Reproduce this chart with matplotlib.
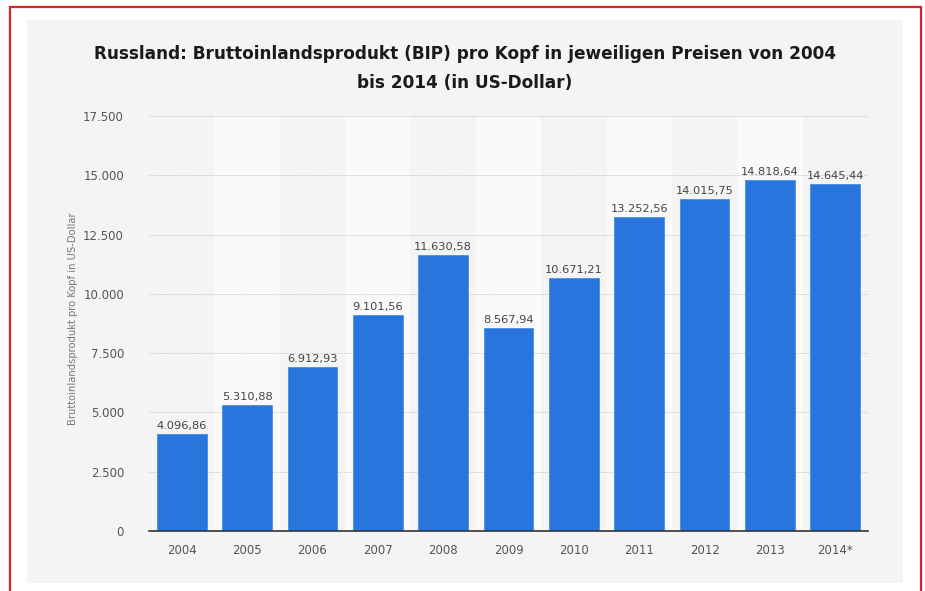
import matplotlib
matplotlib.use('Agg')
import matplotlib.pyplot as plt
from matplotlib.patches import Rectangle

# Daten
jahre = ['2004', '2005', '2006', '2007', '2008', '2009', '2010', '2011', '2012', '2013', '2014*']
werte = [4096.86, 5310.88, 6912.93, 9101.56, 11630.58, 8567.94, 10671.21, 13252.56, 14015.75, 14818.64, 14645.44]
y_ticks = [0, 2500, 5000, 7500, 10000, 12500, 15000, 17500]
y_tick_labels = ['0', '2.500', '5.000', '7.500', '10.000', '12.500', '15.000', '17.500']
titel = 'Russland: Bruttoinlandsprodukt (BIP) pro Kopf in jeweiligen Preisen von 2004\nbis 2014 (in US-Dollar)'
y_titel = 'Bruttoinlandsprodukt pro Kopf in US-Dollar'


def fmt_de(v):  # 1234.56 -> 1.234,56
    s = f'{v:,.2f}'
    return s.replace(',', 'X').replace('.', ',').replace('X', '.')


W, H = 925, 591
fig = plt.figure(figsize=(W / 100, H / 100), dpi=100)
fig.patch.set_facecolor('white')

# rahmen + grauer hintergrund
fig.patches.append(Rectangle((9.5 / W, -0.05), (921 - 9.5) / W, 1.05 - 7 / H, transform=fig.transFigure,
                             fill=False, edgecolor='#d8232a', linewidth=1.6, zorder=-2))
fig.patches.append(Rectangle((27 / W, 1 - 583 / H), (903 - 27) / W, (583 - 20) / H, transform=fig.transFigure,
                             facecolor='#f4f4f4', edgecolor='none', zorder=-2))

ax = fig.add_axes([149 / W, 1 - 531 / H, (868 - 149) / W, (531 - 116) / H])
ax.set_facecolor('none')

x = list(range(len(jahre)))
ax.set_xlim(-0.5, len(jahre) - 0.5)
ax.set_ylim(0, 17500)

# helle streifen
for i in x:
    if i % 2 == 1:
        ax.axvspan(i - 0.5, i + 0.5, color='#fafafa', zorder=0, lw=0)

ax.yaxis.grid(True, linestyle=(0, (1, 1.2)), color='#c4c4c4', linewidth=0.7, zorder=1)
ax.set_axisbelow(True)

bars = ax.bar(x, werte, width=0.76, color='#2775dd', edgecolor='#4a8ee6', linewidth=0.6, zorder=2)
for xi, v in zip(x, werte):
    ax.text(xi, v + 120, fmt_de(v), ha='center', va='bottom', fontsize=8.2, color='#444444', zorder=3)

ax.set_xticks(x)
ax.set_xticklabels(jahre, fontsize=8.5, color='#555555')
ax.set_yticks(y_ticks)
ax.set_yticklabels(y_tick_labels, fontsize=8.5, color='#555555')
ax.tick_params(axis='both', length=0)
ax.tick_params(axis='x', pad=9)
ax.tick_params(axis='y', pad=18)

for s in ['top', 'right', 'left']:
    ax.spines[s].set_visible(False)
ax.spines['bottom'].set_color('#333333')
ax.spines['bottom'].set_linewidth(1.2)

fig.text(73 / W, 1 - 319 / H, y_titel, rotation=90, ha='center', va='center', fontsize=7.2, color='#777777')
fig.text(465 / W, 1 - 68.5 / H, titel, ha='center', va='center', fontsize=12.2, fontweight='bold',
         color='#1a1a1a', linespacing=1.85)

fig.savefig('out.png', dpi=100)
